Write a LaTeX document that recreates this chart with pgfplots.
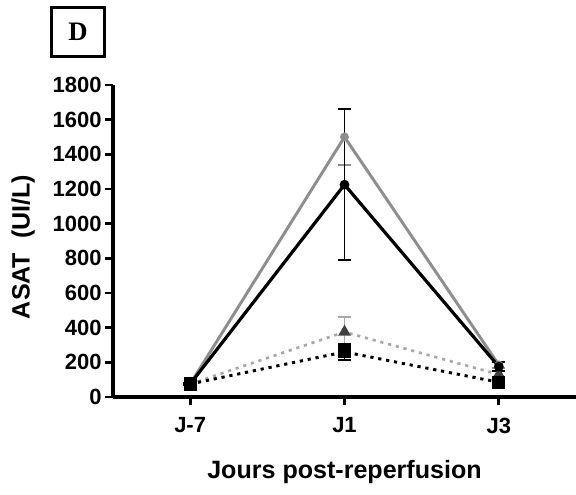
\documentclass[border=0pt]{standalone}
\usepackage{fontspec}
\setmainfont{Liberation Sans}
\newfontfamily\serifb{Liberation Serif}
\usepackage{pgfplots}
\pgfplotsset{compat=1.18}
\definecolor{grisA}{HTML}{8E8E8E}
\definecolor{grisB}{HTML}{A8A8A8}

\begin{document}
\begin{tikzpicture}
\useasboundingbox (-84.75pt,-73.5pt) rectangle (347.25pt,297.75pt);
\begin{axis}[
  at={(0,0)}, anchor=south west,
  scale only axis, width=347.25pt, height=234pt,
  xmin=-0.5, xmax=2.5, ymin=0, ymax=1800,
  axis x line=bottom, axis y line=left,
  axis line style={line width=3pt, -},
  xtick={0,1,2}, xticklabels={J-7,J1,J3},
  ytick={0,200,...,1800},
  tick style={line width=2.2pt, black},
  major tick length=6pt,
  tick align=outside,
  ticklabel style={font=\bfseries\fontsize{16.5}{16.5}\selectfont},
  xticklabel style={yshift=-6pt},
  yticklabel style={xshift=1pt},
  /pgf/number format/assume math mode=true,
  /pgf/number format/set thousands separator={},
  xlabel={Jours post-reperfusion},
  ylabel={ASAT\ \ (UI/L)},
  label style={font=\bfseries\fontsize{18.8}{18.8}\selectfont},
  xlabel style={at={(axis description cs:0.5,-0.24)}, anchor=center},
  ylabel style={at={(axis description cs:-0.194,0.481)}, anchor=center},
  clip=false,
  error bars/y dir=both, error bars/y explicit,
]
% gris pointille (triangles)
\addplot[grisB, line width=2pt, dash pattern=on 2.4pt off 3.6pt,
  mark=triangle*, mark size=3.5pt, mark options={solid, fill=black!75, draw=black!75},
  error bars/error bar style={line width=1.4pt, solid},
  error bars/error mark options={rotate=90, mark size=5pt, line width=1.4pt, solid}]
  coordinates {(0,75) +- (0,6) (1,375) +- (0,85) (2,130) +- (0,20)};
% gris continu
\addplot[grisA, line width=2.2pt, mark=*, mark size=2.2pt,
  error bars/error bar style={line width=1.4pt},
  error bars/error mark options={rotate=90, mark size=5pt, line width=1.4pt}]
  coordinates {(0,75) +- (0,6) (1,1500) +- (0,160) (2,185) +- (0,20)};
% noir continu
\addplot[black, line width=2.4pt, mark=*, mark size=2.4pt,
  error bars/error bar style={line width=1.4pt},
  error bars/error mark options={rotate=90, mark size=5pt, line width=1.4pt}]
  coordinates {(0,75) +- (0,6) (1,1225) +- (0,435) (2,175) +- (0,25)};
% noir pointille (carres)
\addplot[black, line width=2.2pt, dash pattern=on 2.4pt off 3.6pt,
  mark=square*, mark size=3.8pt, mark options={solid},
  error bars/error bar style={line width=1.4pt, solid},
  error bars/error mark options={rotate=90, mark size=5pt, line width=1.4pt, solid}]
  coordinates {(0,75) +- (0,6) (1,260) +- (0,45) (2,85) +- (0,15)};
\end{axis}
\node[draw, line width=2.2pt, minimum width=40pt, minimum height=37pt,
  font=\serifb\bfseries\fontsize{20}{20}\selectfont] at (-26.25pt,273.75pt) {D};
\end{tikzpicture}
\end{document}
